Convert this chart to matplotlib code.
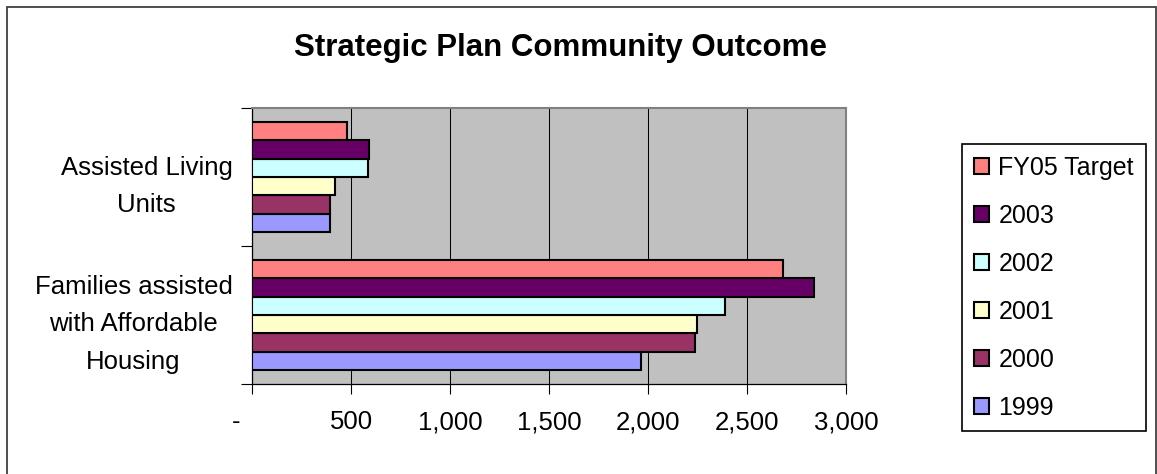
import matplotlib
matplotlib.use("Agg")
import matplotlib.pyplot as plt
import matplotlib.transforms as mtransforms
from matplotlib.patches import Rectangle
import numpy as np

plt.rcParams['font.family'] = ['Liberation Sans', 'DejaVu Sans']

# Chart data
categories = ["Families assisted\nwith Affordable\nHousing", "Assisted Living\nUnits"]
series_names = ["1999", "2000", "2001", "2002", "2003", "FY05 Target"]
values_1999 = [1965, 395]
values_2000 = [2235, 395]
values_2001 = [2245, 420]
values_2002 = [2390, 588]
values_2003 = [2840, 590]
values_fy05 = [2680, 480]
xtick_values = [0, 500, 1000, 1500, 2000, 2500, 3000]
xtick_labels = ["-", "500", "1,000", "1,500", "2,000", "2,500", "3,000"]

series_values = [values_1999, values_2000, values_2001, values_2002, values_2003, values_fy05]
colors = ["#9999FF", "#993366", "#FFFFCC", "#CCFFFF", "#660066", "#FF8080"]

W, H = 1157, 474
FS = 18.5
fig = plt.figure(figsize=(W / 100, H / 100), dpi=100)
fig.patch.set_facecolor("white")

# outer chart border
fig.patches.append(Rectangle((7 / W, -0.05), (1156 - 7) / W, 1.05 - 7 / H,
                             transform=fig.transFigure, fill=False,
                             edgecolor="#404040", linewidth=1.3))

ax = fig.add_axes([252 / W, 1 - 384 / H, (846 - 252) / W, (384 - 108) / H])
ax.set_facecolor("#C0C0C0")

n = len(series_names)
bar_h = 1 / (n + 1.5)
ypos = np.arange(len(categories))
handles = []
for i, (name, vals, c) in enumerate(zip(series_names, series_values, colors)):
    offs = (i - (n - 1) / 2) * bar_h
    b = ax.barh(ypos + offs, vals, height=bar_h, color=c, edgecolor="black",
                linewidth=1.5, label=name, zorder=3)
    handles.append(b)

ax.set_xlim(0, 3000)
ax.set_ylim(-0.5, len(categories) - 0.5)

ax.set_xticks(xtick_values)
ax.set_xticklabels(xtick_labels, fontsize=FS)
ax.xaxis.grid(True, color="black", linewidth=0.75, zorder=1)
ax.set_axisbelow(True)
ax.tick_params(axis="x", direction="out", length=7, width=0.8, pad=12, colors="black")

# shift the zero label left (accounting format padding)
zero_lbl = ax.get_xticklabels()[0]
zero_lbl.set_transform(zero_lbl.get_transform() +
                       mtransforms.ScaledTranslation(-16 / 100, 0, fig.dpi_scale_trans))

# category boundaries as major ticks, names as minor ticks
ax.set_yticks(np.arange(-0.5, len(categories), 1.0))
ax.set_yticklabels([])
ax.set_yticks(ypos, minor=True)
ax.set_yticklabels(categories, minor=True, fontsize=FS, linespacing=1.72,
                   multialignment="center")
ax.tick_params(axis="y", which="major", direction="out", length=8, width=0.8)
ax.tick_params(axis="y", which="minor", length=0, pad=14)

for s in ["left", "bottom"]:
    ax.spines[s].set_color("black")
    ax.spines[s].set_linewidth(0.9)
for s in ["top", "right"]:
    ax.spines[s].set_color("#808080")
    ax.spines[s].set_linewidth(1.5)

fig.text(561 / W, 1 - 48 / H, "Strategic Plan Community Outcome", ha="center",
         va="center", fontsize=22.5, fontweight="bold")

leg = fig.legend(handles[::-1], series_names[::-1], loc="upper left",
                 bbox_to_anchor=(962 / W, 1 - 144 / H), fontsize=18,
                 frameon=True, fancybox=False, shadow=False, framealpha=1,
                 edgecolor="black", borderpad=0.46, labelspacing=0.96,
                 handlelength=0.6, handleheight=0.6, handletextpad=0.4,
                 borderaxespad=0)
leg.get_frame().set_linewidth(1.2)

fig.savefig("out.png", dpi=100)
